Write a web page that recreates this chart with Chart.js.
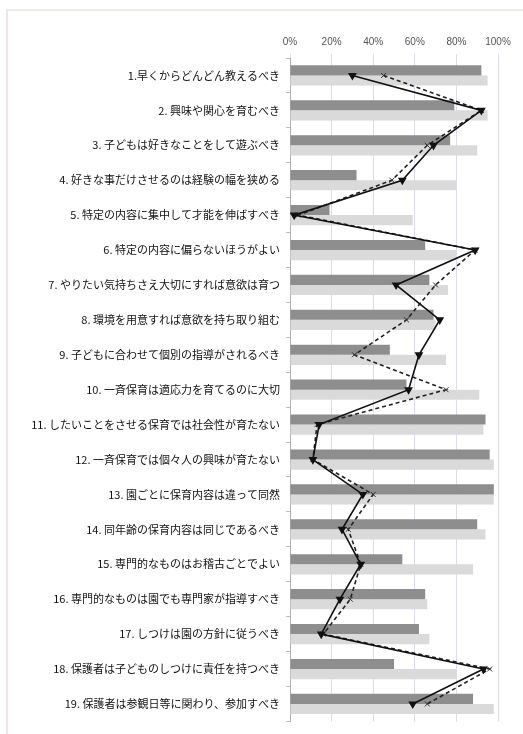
<!DOCTYPE html>
<html>
<head>
<meta charset="utf-8">
<script src="https://cdn.jsdelivr.net/npm/chart.js@4"></script>
<style>
  body { margin: 0; background: #fff; }
  #frame { position: absolute; left: 6px; top: 9px; width: 530px; height: 740px;
           border-left: 2px solid #eee6e6; border-top: 2px solid #eeeae0; }
  #wrap { position: absolute; left: 0; top: 0; width: 523px; height: 734px; }
</style>
</head>
<body>
<div id="frame"></div>
<div id="wrap"><canvas id="chart"></canvas></div>
<script>
const labels = [
  '1.早くからどんどん教えるべき',
  '2. 興味や関心を育むべき',
  '3. 子どもは好きなことをして遊ぶべき',
  '4. 好きな事だけさせるのは経験の幅を狭める',
  '5. 特定の内容に集中して才能を伸ばすべき',
  '6. 特定の内容に偏らないほうがよい',
  '7. やりたい気持ちさえ大切にすれば意欲は育つ',
  '8. 環境を用意すれば意欲を持ち取り組む',
  '9. 子どもに合わせて個別の指導がされるべき',
  '10. 一斉保育は適応力を育てるのに大切',
  '11. したいことをさせる保育では社会性が育たない',
  '12. 一斉保育では個々人の興味が育たない',
  '13. 園ごとに保育内容は違って同然',
  '14. 同年齢の保育内容は同じであるべき',
  '15. 専門的なものはお稽古ごとでよい',
  '16. 専門的なものは園でも専門家が指導すべき',
  '17. しつけは園の方針に従うべき',
  '18. 保護者は子どものしつけに責任を持つべき',
  '19. 保護者は参観日等に関わり、参加すべき'
];

// values in %
const darkBars  = [92, 79, 77, 32, 19, 65, 67, 69, 48, 56, 94, 96, 98, 90, 54, 65, 62, 50, 88];
const lightBars = [95, 95, 90, 80, 59, 80, 76, 70, 75, 91, 93, 98, 98, 94, 88, 66, 67, 80, 98];
const solidLine = [30, 92, 69, 54, 2, 89, 51, 72, 62, 57, 14, 11, 35, 25, 34, 24, 15, 93, 59];
const dashLine  = [45, 92, 66, 49, 4, 89, 70, 56, 31, 75, 13, 11, 40, 28, 34, 29, 16, 96, 66];

const xTicks = [0, 20, 40, 60, 80, 100];

new Chart(document.getElementById('chart'), {
    type: 'bar',
    data: {
        labels: labels,
        datasets: [
            { type: 'line', data: solidLine, borderColor: '#111', borderWidth: 1.6,
              pointStyle: 'triangle', pointRotation: 180, pointRadius: 3.5,
              pointBackgroundColor: '#111', pointBorderColor: '#111', order: 0 },
            { type: 'line', data: dashLine, borderColor: '#222', borderWidth: 1.6, borderDash: [4, 3],
              pointStyle: 'crossRot', pointRadius: 3.5, pointBorderColor: '#333',
              pointBorderWidth: 1, order: 1 },
            { data: darkBars, backgroundColor: '#8e8e8e', order: 2,
              categoryPercentage: 0.58, barPercentage: 1 },
            { data: lightBars, backgroundColor: '#dadada', order: 3,
              categoryPercentage: 0.58, barPercentage: 1 }
        ]
    },
    options: {
        indexAxis: 'y',
        responsive: true,
        maintainAspectRatio: false,
        animation: false,
        layout: { padding: { top: 30, bottom: 4, right: 25, left: 0 } },
        plugins: { legend: { display: false }, tooltip: { enabled: false } },
        scales: {
            x: {
                position: 'top',
                min: 0, max: 100,
                afterBuildTicks: s => { s.ticks = xTicks.map(v => ({ value: v })); },
                afterFit: s => { s.height = 28; },
                ticks: { callback: v => v + '%', color: '#555', padding: 6,
                         font: { family: 'Liberation Sans', size: 10 } },
                grid: { color: '#dcdce6', tickLength: 4, tickColor: '#dcdce6' },
                border: { display: false }
            },
            y: {
                afterFit: s => { s.width = 290; },
                grid: { offset: true, drawOnChartArea: false, tickLength: 4, tickColor: '#bbb' },
                border: { color: '#b0b0b0' },
                ticks: { color: '#111', padding: 6, autoSkip: false,
                         font: { family: 'Noto Sans CJK JP', size: 11 } }
            }
        }
    }
});
</script>
</body>
</html>
